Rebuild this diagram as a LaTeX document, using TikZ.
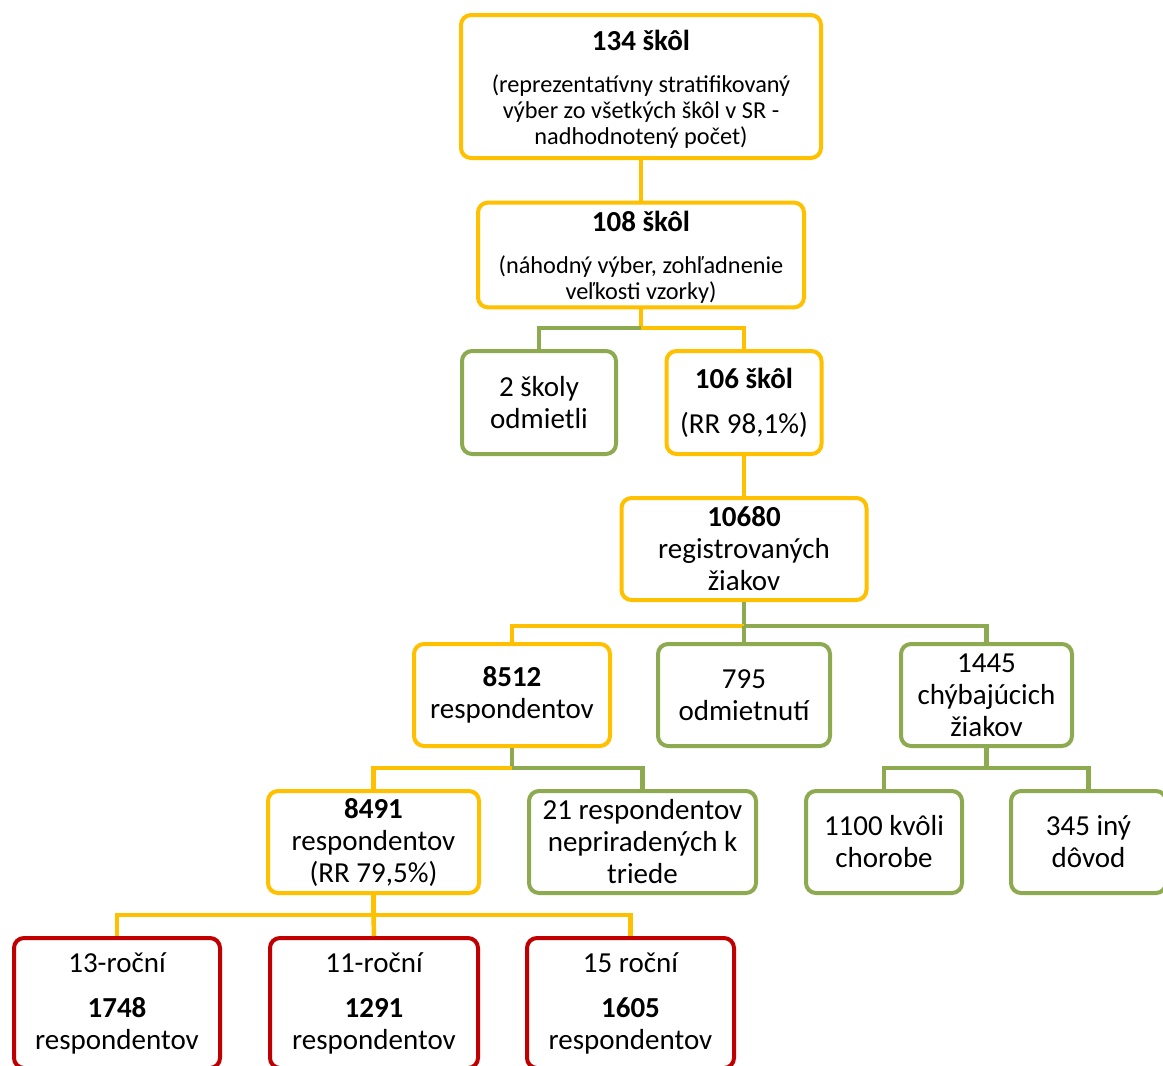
\documentclass[tikz,border=0pt]{standalone}
\usepackage{fontspec}
\setmainfont{Carlito}
\definecolor{ored}{RGB}{192,0,0}
\definecolor{oorange}{RGB}{255,192,0}
\definecolor{ogreen}{RGB}{141,170,80}
\newcommand{\bigf}{\fontsize{29}{32}\selectfont}
\newcommand{\smallf}{\fontsize{24.3}{26}\selectfont}
\newcommand{\subblock}[1]{{\smallf\begin{tabular}[t]{@{}c@{}}#1\end{tabular}}}
\begin{document}
\begin{tikzpicture}[x=1pt,y=-1pt,
  boxbase/.style={draw, line width=4pt, rounded corners=10pt, fill=white, inner sep=0pt, align=center, font=\bigf},
  obox/.style={boxbase, draw=oorange},
  gbox/.style={boxbase, draw=ogreen},
  rbox/.style={boxbase, draw=ored},
  oline/.style={draw=oorange, line width=4.5pt},
  gline/.style={draw=ogreen, line width=4.5pt},
]
\useasboundingbox[fill=white] (0,0) rectangle (1163,1066);

% level 1
\node[obox, minimum width=360pt, minimum height=143pt] (s134) at (641,86.5)
  {\rule{0pt}{29pt}\textbf{134 škôl}\\[10pt]\subblock{(reprezentatívny stratifikovaný\\výber zo všetkých škôl v SR -\\nadhodnotený počet)}};
% level 2
\node[obox, minimum width=326pt, minimum height=102pt] (s108) at (641,255)
  {\rule{0pt}{29pt}\textbf{108 škôl}\\[10pt]\subblock{(náhodný výber, zohľadnenie\\veľkosti vzorky)}};
% level 3
\node[gbox, minimum width=154pt, minimum height=103pt] (odm) at (539,402.5)
  {2 školy\\odmietli};
\node[obox, minimum width=155pt, minimum height=103pt] (s106) at (744,402.5)
  {\textbf{106 škôl}\\[13pt](RR 98,1\%)};
% level 4
\node[obox, minimum width=245pt, minimum height=102pt] (r10680) at (744,549)
  {\textbf{10680}\\registrovaných\\žiakov};
% level 5
\node[obox, minimum width=196pt, minimum height=102pt] (r8512) at (512,695)
  {\textbf{8512}\\respondentov};
\node[gbox, minimum width=172pt, minimum height=102pt] (r795) at (744,695)
  {795\\odmietnutí};
\node[gbox, minimum width=171pt, minimum height=102pt] (r1445) at (986.5,695)
  {1445\\chýbajúcich\\žiakov};
% level 6
\node[obox, minimum width=211pt, minimum height=102pt] (r8491) at (373.5,842)
  {\textbf{8491}\\respondentov\\(RR 79,5\%)};
\node[gbox, minimum width=227pt, minimum height=102pt] (r21) at (642.5,842)
  {21 respondentov\\nepriradených k\\triede};
\node[gbox, minimum width=156pt, minimum height=102pt] (r1100) at (884,842)
  {1100 kvôli\\chorobe};
\node[gbox, minimum width=155pt, minimum height=102pt] (r345) at (1088.5,842)
  {345 iný\\dôvod};
% level 7
\node[rbox, minimum width=206pt, minimum height=130pt] (a13) at (117,1003)
  {13-roční\\[13pt]\textbf{1748}\\respondentov};
\node[rbox, minimum width=208pt, minimum height=130pt] (a11) at (374,1003)
  {11-roční\\[13pt]\textbf{1291}\\respondentov};
\node[rbox, minimum width=207pt, minimum height=130pt] (a15) at (630.5,1003)
  {15 roční\\[13pt]\textbf{1605}\\respondentov};

% junctions
\coordinate (j1) at (641,328);
\coordinate (j2) at (744,626);
\coordinate (j3) at (512,768);
\coordinate (j4) at (986.5,768);
\coordinate (j5) at (373.5,915);

% connectors
\draw[oline] (s134.south) -- (s108.north);
\draw[oline] (s108.south) -- (j1);
\draw[gline] (j1) -| (odm.north);
\draw[oline] (j1) -| (s106.north);
\draw[oline] (s106.south) -- (r10680.north);
\draw[gline] (r10680.south) -- (j2);
\draw[oline] (j2) -| (r8512.north);
\draw[gline] (j2) -- (r795.north);
\draw[gline] (j2) -| (r1445.north);
\draw[gline] (r8512.south) -- (j3);
\draw[oline] (j3) -| (r8491.north);
\draw[gline] (j3) -| (r21.north);
\draw[gline] (r1445.south) -- (j4);
\draw[gline] (j4) -| (r1100.north);
\draw[gline] (j4) -| (r345.north);
\draw[oline] (r8491.south) -- (j5);
\draw[oline] (j5) -| (a13.north);
\draw[oline] (j5) -- (a11.north);
\draw[oline] (j5) -| (a15.north);
\end{tikzpicture}
\end{document}
